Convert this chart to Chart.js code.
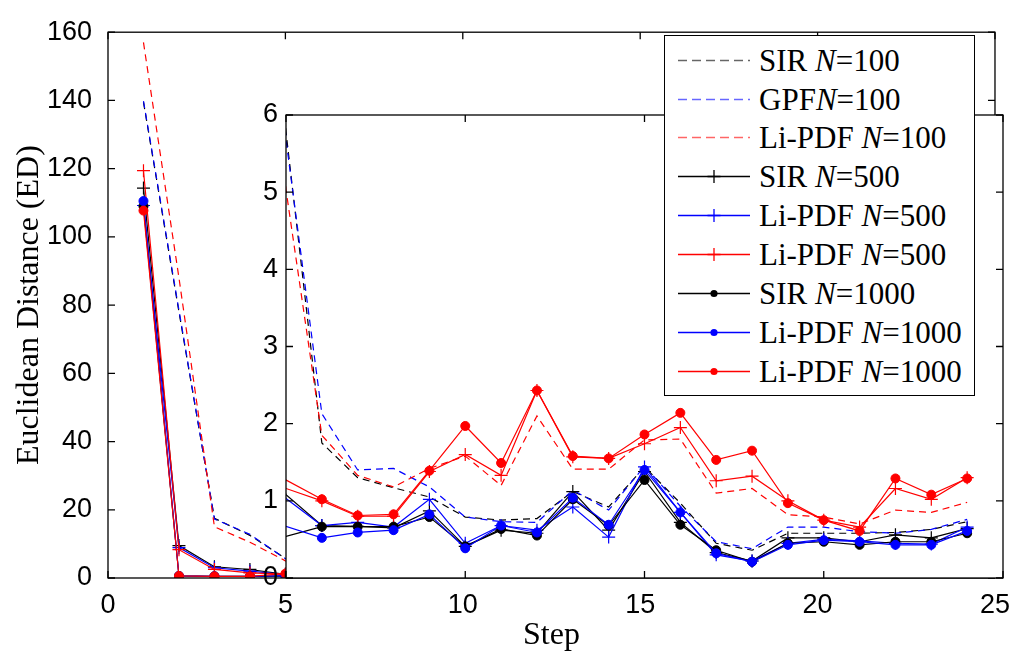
<!DOCTYPE html>
<html>
<head>
<meta charset="utf-8">
<title>Euclidean Distance per Step</title>
<script src="https://cdn.jsdelivr.net/npm/chart.js@4.4.1/dist/chart.umd.min.js"></script>
<style>
  html, body { margin: 0; padding: 0; background: #fff; }
  #wrap { position: relative; width: 1021px; height: 658px; overflow: hidden; background: #fff; }
  #wrap canvas { position: absolute; left: 0; top: 0; }
  #mainChart { z-index: 1; }
  #insetChart { z-index: 2; }
  #legend {
    position: absolute; left: 664px; top: 35px; width: 311px; height: 361px;
    box-sizing: border-box; border: 1.4px solid #000; background: #fff; z-index: 3;
    font-family: "Liberation Serif", "Times New Roman", serif; font-size: 31px; color: #000;
  }
  #legend .row { position: absolute; left: 0; width: 100%; height: 39px; line-height: 39px; white-space: nowrap; }
  #legend svg { position: absolute; left: 12px; top: 0; }
  #legend .txt { position: absolute; left: 94px; top: 0; }
</style>
</head>
<body>
<div id="wrap">
  <canvas id="mainChart" width="1021" height="658"></canvas>
  <canvas id="insetChart" width="1021" height="658"></canvas>
  <div id="legend"></div>
</div>
<script>
// Time steps of the tracking run
const steps = [1, 2, 3, 4, 5, 6, 7, 8, 9, 10, 11, 12, 13, 14, 15, 16, 17, 18, 19, 20, 21, 22, 23, 24];

// Euclidean distance per step for each filter / particle count
const sirN100       = [139.5, 78, 17.5, 12.5, 5.78, 1.75, 1.30, 1.17, 1.05, 0.79, 0.75, 0.77, 1.12, 0.92, 1.44, 0.97, 0.45, 0.36, 0.58, 0.58, 0.58, 0.59, 0.63, 0.73];
const gpfN100       = [139.8, 78.5, 17.3, 12.8, 5.68, 2.13, 1.40, 1.42, 1.18, 0.79, 0.73, 0.72, 1.14, 0.88, 1.45, 0.93, 0.47, 0.38, 0.66, 0.66, 0.60, 0.58, 0.63, 0.76];
const lipdfN100     = [157, 88, 15, 10.5, 5.03, 1.85, 1.33, 1.18, 1.42, 1.58, 1.20, 2.10, 1.41, 1.41, 1.79, 1.80, 1.10, 1.16, 0.82, 0.79, 0.70, 0.88, 0.85, 0.98];
const sirN500       = [114.3, 9.5, 3.3, 2.5, 1.08, 0.68, 0.67, 0.65, 0.87, 0.41, 0.62, 0.58, 1.12, 0.62, 1.38, 0.72, 0.33, 0.22, 0.52, 0.52, 0.47, 0.56, 0.52, 0.64];
const lipdfBlueN500 = [109.2, 8.9, 3.0, 2.0, 1.03, 0.68, 0.72, 0.66, 1.02, 0.45, 0.68, 0.62, 0.92, 0.53, 1.44, 0.85, 0.30, 0.22, 0.45, 0.50, 0.48, 0.45, 0.44, 0.66];
const lipdfRedN500  = [119.4, 8.3, 2.5, 1.5, 1.16, 1.00, 0.80, 0.80, 1.38, 1.60, 1.33, 2.43, 1.57, 1.55, 1.74, 1.95, 1.26, 1.32, 1.00, 0.75, 0.66, 1.16, 1.02, 1.30];
const sirN1000      = [109, 0.6, 0.5, 0.5, 0.54, 0.665, 0.665, 0.665, 0.79, 0.41, 0.635, 0.55, 1.02, 0.68, 1.27, 0.69, 0.36, 0.21, 0.45, 0.47, 0.43, 0.47, 0.47, 0.58];
const lipdfBlueN1000= [110.5, 0.6, 0.5, 0.5, 0.67, 0.52, 0.59, 0.62, 0.825, 0.385, 0.68, 0.59, 1.04, 0.69, 1.40, 0.85, 0.32, 0.21, 0.43, 0.49, 0.47, 0.43, 0.43, 0.61];
const lipdfRedN1000 = [107.7, 0.6, 0.5, 0.5, 1.27, 1.02, 0.81, 0.825, 1.39, 1.97, 1.49, 2.43, 1.58, 1.55, 1.86, 2.14, 1.53, 1.65, 0.97, 0.75, 0.61, 1.29, 1.08, 1.29];

// Legend labels: [plain part, italic symbol, plain part]
const legendLabels = [
  ["SIR ", "N", "=100"],
  ["GPF", "N", "=100"],
  ["Li-PDF ", "N", "=100"],
  ["SIR ", "N", "=500"],
  ["Li-PDF ", "N", "=500"],
  ["Li-PDF ", "N", "=500"],
  ["SIR ", "N", "=1000"],
  ["Li-PDF ", "N", "=1000"],
  ["Li-PDF ", "N", "=1000"]
];

// Axis ticks
const mainXTicks  = [0, 5, 10, 15, 20, 25];
const mainYTicks  = [0, 20, 40, 60, 80, 100, 120, 140, 160];
const insetXTicks = [5, 10, 15, 20, 25];
const insetYTicks = [0, 1, 2, 3, 4, 5, 6];

const seriesValues = [sirN100, gpfN100, lipdfN100, sirN500, lipdfBlueN500, lipdfRedN500, sirN1000, lipdfBlueN1000, lipdfRedN1000];
const seriesColor  = ['#000000', '#0000ff', '#ff0000', '#000000', '#0000ff', '#ff0000', '#000000', '#0000ff', '#ff0000'];
const seriesMarker = ['none', 'none', 'none', 'cross', 'cross', 'cross', 'dot', 'dot', 'dot'];

const SANS = '"Liberation Sans", Arial, Helvetica, sans-serif';
const SERIF = '"Liberation Serif", "Times New Roman", serif';
const DASH = [7, 5];
const CROSS_R = 6.5;
const DOT_R = 4.5;

function markerRadius(i) {
  return seriesMarker[i] === 'cross' ? CROSS_R : seriesMarker[i] === 'dot' ? DOT_R : 0;
}

function buildDatasets(isInset) {
  return seriesValues.map((vals, i) => {
    const r = markerRadius(i);
    return {
      label: legendLabels[i].join(''),
      data: steps.map((s, k) => ({ x: s, y: vals[k] })),
      borderColor: seriesColor[i],
      backgroundColor: seriesColor[i],
      borderWidth: 1.2,
      borderDash: seriesMarker[i] === 'none' ? DASH : [],
      pointStyle: seriesMarker[i] === 'dot' ? 'circle' : 'cross',
      pointRadius: isInset ? (c => (c.raw && c.raw.x <= 5 ? 0 : r)) : r,
      pointBorderWidth: seriesMarker[i] === 'dot' ? 1 : 1.2,
      pointBorderColor: seriesColor[i],
      pointBackgroundColor: seriesColor[i],
      tension: 0,
      fill: false,
      order: seriesValues.length - i,
      clip: isInset ? 0 : undefined
    };
  });
}

// Box frame with inward-pointing ticks on all four sides
const boxTicks = {
  id: 'boxTicks',
  afterDatasetsDraw(chart, args, opts) {
    const { ctx, chartArea: a, scales } = chart;
    const len = opts.len || 7;
    ctx.save();
    ctx.strokeStyle = '#000';
    ctx.lineWidth = 1.3;
    ctx.setLineDash([]);
    ctx.beginPath();
    (opts.x || []).forEach(v => {
      const px = scales.x.getPixelForValue(v);
      ctx.moveTo(px, a.bottom); ctx.lineTo(px, a.bottom - len);
      ctx.moveTo(px, a.top); ctx.lineTo(px, a.top + len);
    });
    (opts.y || []).forEach(v => {
      const py = scales.y.getPixelForValue(v);
      ctx.moveTo(a.left, py); ctx.lineTo(a.left + len, py);
      ctx.moveTo(a.right, py); ctx.lineTo(a.right - len, py);
    });
    ctx.stroke();
    ctx.strokeRect(a.left, a.top, a.right - a.left, a.bottom - a.top);
    ctx.restore();
  }
};

// Opaque plot background (lets the inset hide what lies beneath it)
const plotBackground = {
  id: 'plotBackground',
  beforeDraw(chart, args, opts) {
    if (!opts.color) return;
    const { ctx, chartArea: a } = chart;
    ctx.save();
    ctx.fillStyle = opts.color;
    ctx.fillRect(a.left, a.top, a.right - a.left, a.bottom - a.top);
    ctx.restore();
  }
};

const tickFont = { family: SANS, size: 27 };
const titleFont = { family: SERIF, size: 32 };

new Chart(document.getElementById('mainChart'), {
  type: 'line',
  data: { datasets: buildDatasets(false) },
  plugins: [plotBackground, boxTicks],
  options: {
    responsive: false,
    animation: false,
    devicePixelRatio: 1,
    layout: { padding: { left: 0, top: 19, right: 19, bottom: 0 } },
    plugins: {
      legend: { display: false },
      tooltip: { enabled: false },
      boxTicks: { x: mainXTicks, y: mainYTicks, len: 7 },
      plotBackground: { color: '#ffffff' }
    },
    scales: {
      x: {
        type: 'linear', min: 0, max: 25,
        afterBuildTicks: s => { s.ticks = mainXTicks.map(v => ({ value: v })); },
        afterFit: s => { s.height = 80; },
        grid: { display: false, drawTicks: false },
        border: { display: false },
        ticks: { padding: 11, color: '#000', font: tickFont, maxRotation: 0, autoSkip: false },
        title: { display: true, text: 'Step', color: '#000', font: titleFont, padding: { top: 0, bottom: 3 } }
      },
      y: {
        type: 'linear', min: 0, max: 160,
        afterBuildTicks: s => { s.ticks = mainYTicks.map(v => ({ value: v })); },
        afterFit: s => { s.width = 108; },
        grid: { display: false, drawTicks: false },
        border: { display: false },
        ticks: { padding: 16, color: '#000', font: tickFont, autoSkip: false },
        title: { display: true, text: 'Euclidean Distance (ED)', color: '#000', font: titleFont, padding: { top: 10, bottom: 0 } }
      }
    }
  }
});

new Chart(document.getElementById('insetChart'), {
  type: 'line',
  data: { datasets: buildDatasets(true) },
  plugins: [plotBackground, boxTicks],
  options: {
    responsive: false,
    animation: false,
    devicePixelRatio: 1,
    layout: { padding: { left: 0, top: 115, right: 18, bottom: 80 } },
    plugins: {
      legend: { display: false },
      tooltip: { enabled: false },
      boxTicks: { x: insetXTicks, y: insetYTicks, len: 7 },
      plotBackground: { color: '#ffffff' }
    },
    scales: {
      x: {
        type: 'linear', min: 5, max: 25,
        afterBuildTicks: s => { s.ticks = insetXTicks.map(v => ({ value: v })); },
        afterFit: s => { s.height = 0; },
        grid: { display: false, drawTicks: false },
        border: { display: false },
        ticks: { display: false }
      },
      y: {
        type: 'linear', min: 0, max: 6,
        afterBuildTicks: s => { s.ticks = insetYTicks.map(v => ({ value: v })); },
        afterFit: s => { s.width = 286; },
        grid: { display: false, drawTicks: false },
        border: { display: false },
        ticks: { padding: 8, color: '#000', font: tickFont, autoSkip: false }
      }
    }
  }
});

// Legend: one row per series, sample line plus label with italic N
(function buildLegend() {
  const box = document.getElementById('legend');
  const ns = 'http://www.w3.org/2000/svg';
  const rowH = 39, firstCenter = 25.5, pitch = 38.9;
  legendLabels.forEach((parts, i) => {
    const row = document.createElement('div');
    row.className = 'row';
    row.style.top = (firstCenter + i * pitch - rowH / 2 - 1.4) + 'px';
    const svg = document.createElementNS(ns, 'svg');
    svg.setAttribute('width', '76');
    svg.setAttribute('height', String(rowH));
    const cy = rowH / 2;
    const line = document.createElementNS(ns, 'line');
    line.setAttribute('x1', '1'); line.setAttribute('x2', '73');
    line.setAttribute('y1', cy); line.setAttribute('y2', cy);
    line.setAttribute('stroke', seriesColor[i]);
    line.setAttribute('stroke-width', '1.3');
    if (seriesMarker[i] === 'none') {
      line.setAttribute('stroke-dasharray', '9 5');
      line.setAttribute('stroke-opacity', '0.6');
    }
    svg.appendChild(line);
    if (seriesMarker[i] === 'cross') {
      const p = document.createElementNS(ns, 'path');
      p.setAttribute('d', `M37 ${cy - 6.5} V ${cy + 6.5} M30.5 ${cy} H 43.5`);
      p.setAttribute('stroke', seriesColor[i]);
      p.setAttribute('stroke-width', '1.3');
      svg.appendChild(p);
    } else if (seriesMarker[i] === 'dot') {
      const c = document.createElementNS(ns, 'circle');
      c.setAttribute('cx', '37'); c.setAttribute('cy', cy); c.setAttribute('r', '3.6');
      c.setAttribute('fill', seriesColor[i]);
      svg.appendChild(c);
    }
    row.appendChild(svg);
    const txt = document.createElement('span');
    txt.className = 'txt';
    txt.appendChild(document.createTextNode(parts[0]));
    const it = document.createElement('i');
    it.textContent = parts[1];
    txt.appendChild(it);
    txt.appendChild(document.createTextNode(parts[2]));
    row.appendChild(txt);
    box.appendChild(row);
  });
})();
</script>
</body>
</html>
